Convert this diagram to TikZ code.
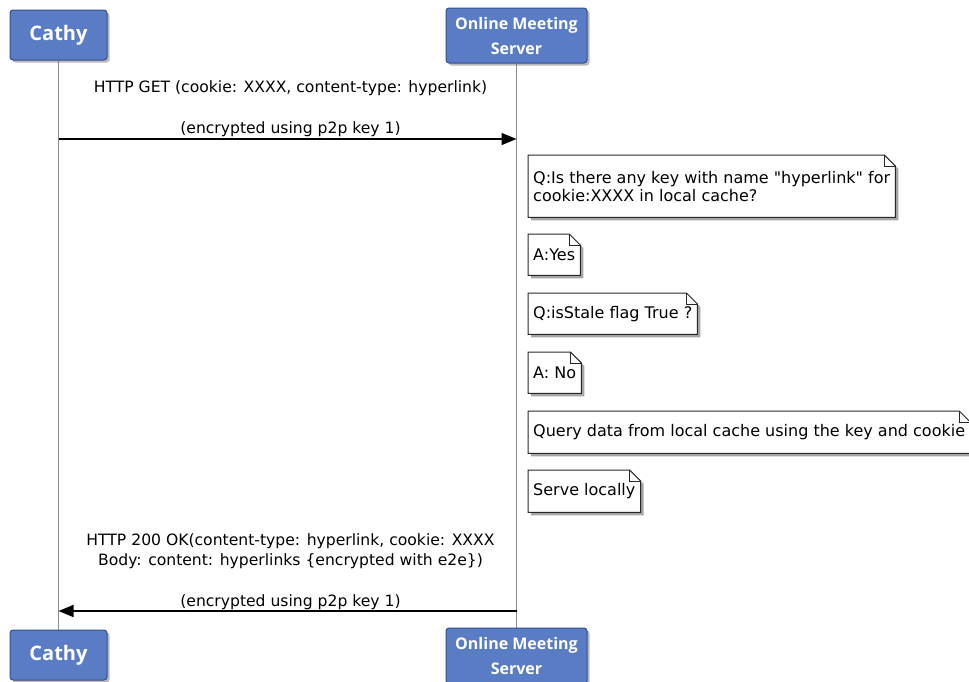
\documentclass[tikz,border=0pt]{standalone}
\usepackage{fontspec}
\setmainfont{DejaVu Sans}[Ligatures=TeXOff]
\newfontfamily\headfont{Open Sans}
\usetikzlibrary{arrows.meta,shadows,backgrounds,calc}

\definecolor{actorfill}{RGB}{90,124,196}
\definecolor{actorline}{RGB}{52,78,140}
\definecolor{lifegray}{RGB}{140,140,140}
\definecolor{noteline}{RGB}{40,40,40}

\tikzset{
  actor/.style={draw=actorline, line width=1pt, fill=actorfill,
    rounded corners=3pt, text=white, align=center,
    inner sep=0pt,
    drop shadow={shadow xshift=2.5pt, shadow yshift=-2.5pt, fill=black!60, opacity=.45}},
  lifeline/.style={draw=lifegray, line width=1.4pt},
  msg/.style={line width=1.5pt, -{Triangle[length=15pt,width=12pt]}},
  msglabel/.style={font=\fontsize{15.6}{20.5}\selectfont, align=center, inner sep=0pt},
  note/.style={font=\fontsize{16}{18}\selectfont, align=left, anchor=north west,
    inner xsep=5pt, inner ysep=0pt},
  noteshape/.style={draw=noteline, line width=1pt, fill=white,
    drop shadow={shadow xshift=3pt, shadow yshift=-3pt, fill=black!70, opacity=.5}},
  fold/.style={draw=noteline, line width=0.8pt},
}

% outline of a note with a folded top-right corner
\newcommand\notefold[1]{%
  \path[noteshape] (#1.north west) -- ([xshift=-11pt]#1.north east)
    -- ([yshift=-11pt]#1.north east) -- (#1.south east) -- (#1.south west) -- cycle;
  \draw[fold] ([xshift=-11pt]#1.north east) -- ([xshift=-11pt,yshift=-11pt]#1.north east)
    -- ([yshift=-11pt]#1.north east);
}

\begin{document}
\begin{tikzpicture}[x=1pt, y=-1pt]
  \useasboundingbox (0,0) rectangle (969,681);

  % participants
  \node[actor, minimum width=97pt, minimum height=50pt, font=\headfont\bfseries\fontsize{20}{24}\selectfont]
    (cathyTop) at (58.5,35) {Cathy};
  \node[actor, minimum width=141pt, minimum height=55pt, font=\headfont\bfseries\fontsize{16}{25}\selectfont]
    (serverTop) at (516.5,35.5) {Online Meeting\\Server};
  \node[actor, minimum width=97pt, minimum height=50pt, font=\headfont\bfseries\fontsize{20}{24}\selectfont]
    (cathyBot) at (58.5,655) {Cathy};
  \node[actor, minimum width=141pt, minimum height=56pt, font=\headfont\bfseries\fontsize{16}{25}\selectfont]
    (serverBot) at (516.5,656) {Online Meeting\\Server};

  % lifelines
  \begin{scope}[on background layer]
    \draw[lifeline] (cathyTop.south) -- (cathyBot.north);
    \draw[lifeline] (serverTop.south) -- (serverBot.north);
  \end{scope}

  % request
  \coordinate (reqFrom) at (cathyTop.south |- 0,139);
  \coordinate (reqTo) at (serverTop.south |- 0,139);
  \draw[msg] (reqFrom) -- (reqTo);
  \node[msglabel, anchor=south] (reqLabel) at ([xshift=3pt,yshift=2.5pt]$(reqFrom)!0.5!(reqTo)$)
    {HTTP GET (cookie: XXXX, content-type: hyperlink)\\ \\(encrypted using p2p key 1)};

  % server-side notes
  \node[note, minimum height=62pt] (q1) at (528,155)
    {Q:Is there any key with name "hyperlink" for\\cookie:XXXX in local cache?};
  \node[note, minimum height=41pt] (a1) at (528,234) {A:Yes};
  \node[note, minimum height=41pt] (q2) at (528,293) {Q:isStale flag True ?};
  \node[note, minimum height=41pt] (a2) at (528,352) {A: No};
  \node[note, minimum height=42pt] (qd) at (528,411) {Query data from local cache using the key and cookie};
  \node[note, minimum height=42pt] (sl) at (528,470) {Serve locally};
  \begin{scope}[on background layer]
    \foreach \n in {q1,a1,q2,a2,qd,sl} {\notefold{\n}}
  \end{scope}

  % response
  \coordinate (resFrom) at (serverTop.south |- 0,611);
  \coordinate (resTo) at (cathyTop.south |- 0,611);
  \draw[msg] (resFrom) -- (resTo);
  \node[msglabel, anchor=south] (resLabel) at ([xshift=3pt,yshift=1pt]$(resFrom)!0.5!(resTo)$)
    {HTTP 200 OK(content-type: hyperlink, cookie: XXXX\\Body: content: hyperlinks \{encrypted with e2e\})\\ \\(encrypted using p2p key 1)};
\end{tikzpicture}
\end{document}
